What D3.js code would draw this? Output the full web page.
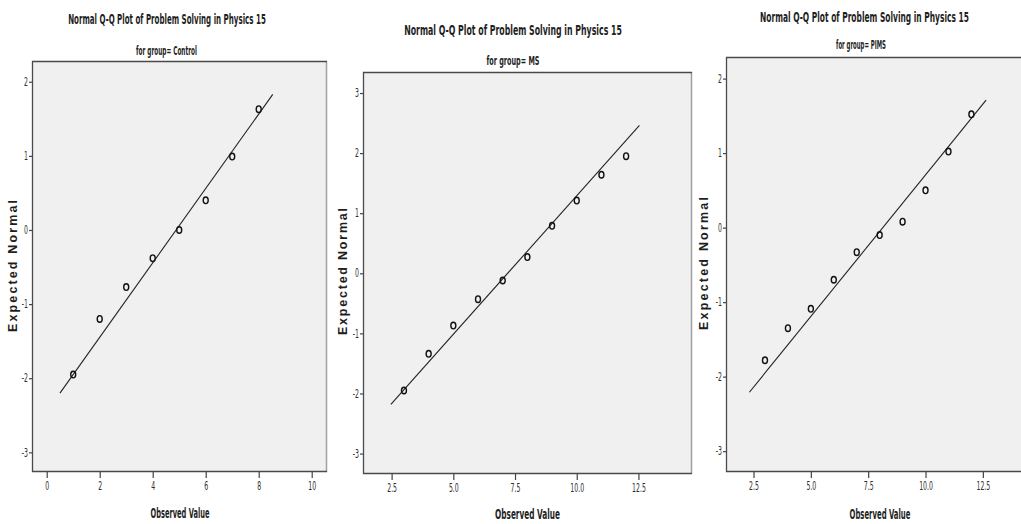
<!DOCTYPE html>
<html>
<head>
<meta charset="utf-8">
<script src="https://cdn.jsdelivr.net/npm/d3@7"></script>
<style>
  html, body { margin: 0; padding: 0; background: #ffffff; }
  svg { display: block; }
  .narrow { font-family: "Liberation Sans Narrow", "Arial Narrow", "DejaVu Sans Condensed", sans-serif; }
  .wide { font-family: "Liberation Sans", Arial, "DejaVu Sans", sans-serif; }
</style>
</head>
<body>
<svg id="chart" width="1021" height="524"></svg>
<script>
// Observed scores and expected normal quantiles, one pair of arrays per group
const controlObserved = [1, 2, 3, 4, 5, 6, 7, 8];
const controlExpected = [-1.95, -1.20, -0.77, -0.38, 0.00, 0.40, 0.99, 1.63];

const msObserved = [3, 4, 5, 6, 7, 8, 9, 10, 11, 12];
const msExpected = [-1.95, -1.34, -0.87, -0.43, -0.12, 0.27, 0.79, 1.21, 1.64, 1.95];

const pimsObserved = [3, 4, 5, 6, 7, 8, 9, 10, 11, 12];
const pimsExpected = [-1.78, -1.35, -1.09, -0.70, -0.33, -0.10, 0.08, 0.50, 1.02, 1.52];

// End points of each group's normal reference line
const controlLineX = [0.50, 8.53];
const controlLineY = [-2.20, 1.83];
const msLineX = [2.47, 12.54];
const msLineY = [-2.18, 2.46];
const pimsLineX = [2.32, 12.64];
const pimsLineY = [-2.21, 1.71];

// Axis ticks
const controlXTicks = [0, 2, 4, 6, 8, 10];
const msXTicks = [2.5, 5.0, 7.5, 10.0, 12.5];
const pimsXTicks = [2.5, 5.0, 7.5, 10.0, 12.5];
const controlYTicks = [-3, -2, -1, 0, 1, 2];
const msYTicks = [-3, -2, -1, 0, 1, 2, 3];
const pimsYTicks = [-3, -2, -1, 0, 1, 2];

// Text
const mainTitle = "Normal Q-Q Plot of Problem Solving in Physics 15";
const groupNames = ["Control", "MS", "PIMS"];
const xTitle = "Observed Value";
const yTitle = "Expected Normal";

// Plain hyphen for negatives
const intFmt = d => String(d);
const oneDec = d => d.toFixed(1);

// Panel layout: plot frame, domains and text placement
const panels = [
  {
    group: groupNames[0], obs: controlObserved, exp: controlExpected,
    lineX: controlLineX, lineY: controlLineY,
    xTicks: controlXTicks, yTicks: controlYTicks, xFmt: intFmt,
    frame: { x0: 32, x1: 327, y0: 61, y1: 472 },
    xDomain: [-0.555, 10.577], yDomain: [-3.265, 2.28],
    title: { cx: 167, y: 24, w: 198 }, sub: { cx: 166.5, y: 55, w: 61 },
    xt: { cx: 180, y: 518, w: 59 }, yt: { x: 17, cy: 266, w: 132 }
  },
  {
    group: groupNames[1], obs: msObserved, exp: msExpected,
    lineX: msLineX, lineY: msLineY,
    xTicks: msXTicks, yTicks: msYTicks, xFmt: oneDec,
    frame: { x0: 363, x1: 692, y0: 72, y1: 474 },
    xDomain: [1.34, 14.67], yDomain: [-3.34, 3.35],
    title: { cx: 513, y: 35, w: 218 }, sub: { cx: 513, y: 65, w: 53 },
    xt: { cx: 527.5, y: 519, w: 65 }, yt: { x: 347, cy: 271.5, w: 127 }
  },
  {
    group: groupNames[2], obs: pimsObserved, exp: pimsExpected,
    lineX: pimsLineX, lineY: pimsLineY,
    xTicks: pimsXTicks, yTicks: pimsYTicks, xFmt: oneDec,
    frame: { x0: 726, x1: 1023, y0: 57, y1: 472 },
    xDomain: [1.30, 14.25], yDomain: [-3.28, 2.29],
    title: { cx: 864.5, y: 22, w: 209 }, sub: { cx: 861, y: 48.5, w: 50 },
    xt: { cx: 880, y: 519, w: 61 }, yt: { x: 708, cy: 263.5, w: 133 }
  }
];

const svg = d3.select("#chart");

// Draw a centred narrow label squeezed horizontally to a given width
function narrowLabel(g, txt, cx, y, size, width) {
  const t = g.append("text").attr("class", "narrow")
    .attr("x", 0).attr("y", 0)
    .attr("text-anchor", "middle").attr("font-size", size).attr("font-weight", "bold")
    .attr("fill", "#1e1e1e")
    .text(txt);
  const natural = t.node().getComputedTextLength();
  const s = width / natural;
  t.attr("transform", `translate(${cx},${y}) scale(${s},1)`);
  return t;
}

const TICK_SQUEEZE = 0.6;

panels.forEach(p => {
  const f = p.frame;
  const x = d3.scaleLinear().domain(p.xDomain).range([f.x0, f.x1]);
  const y = d3.scaleLinear().domain(p.yDomain).range([f.y1, f.y0]);
  const g = svg.append("g");

  // plot area background
  g.append("rect")
    .attr("x", f.x0).attr("y", f.y0)
    .attr("width", f.x1 - f.x0).attr("height", f.y1 - f.y0)
    .attr("fill", "#f0f0f0");

  // frame: right edge is lighter
  g.append("line").attr("x1", f.x1 - 0.5).attr("x2", f.x1 - 0.5)
    .attr("y1", f.y0).attr("y2", f.y1).attr("stroke", "#a0a0a0").attr("stroke-width", 1.5);
  g.append("path")
    .attr("d", `M${f.x1},${f.y0 + 0.5}H${f.x0 + 0.5}V${f.y1 - 0.5}H${f.x1}`)
    .attr("fill", "none").attr("stroke", "#4a4a4a").attr("stroke-width", 1.3);

  // axes
  const xAxis = d3.axisBottom(x).tickValues(p.xTicks).tickFormat(p.xFmt)
    .tickSize(6).tickSizeOuter(0).tickPadding(4);
  const yAxis = d3.axisLeft(y).tickValues(p.yTicks).tickFormat(intFmt)
    .tickSize(3).tickSizeOuter(0).tickPadding(1);

  const gx = g.append("g").attr("transform", `translate(0,${f.y1})`).call(xAxis);
  const gy = g.append("g").attr("transform", `translate(${f.x0},0)`).call(yAxis);
  [gx, gy].forEach(a => {
    a.select(".domain").remove();
    a.selectAll(".tick line").attr("stroke", "#444").attr("stroke-width", 1.2);
    a.selectAll(".tick text")
      .attr("class", "narrow")
      .attr("font-size", 11.5)
      .attr("fill", "#2e2e2e")
      .each(function () {
        const t = d3.select(this);
        const x0 = +t.attr("x") || 0;
        t.attr("x", x0 / TICK_SQUEEZE).attr("transform", `scale(${TICK_SQUEEZE},1)`);
      });
  });

  // normal reference line
  const lineData = p.lineX.map((v, i) => [v, p.lineY[i]]);
  g.append("path")
    .datum(lineData)
    .attr("d", d3.line().x(d => x(d[0])).y(d => y(d[1])))
    .attr("fill", "none").attr("stroke", "#222").attr("stroke-width", 1.1);

  // observed points
  g.selectAll("ellipse.pt")
    .data(p.obs.map((v, i) => [v, p.exp[i]]))
    .join("ellipse")
    .attr("class", "pt")
    .attr("cx", d => x(d[0])).attr("cy", d => y(d[1]))
    .attr("rx", 2.5).attr("ry", 3.3)
    .attr("fill", "none").attr("stroke", "#111").attr("stroke-width", 1.4);

  // titles
  narrowLabel(g, mainTitle, p.title.cx, p.title.y, 14.5, p.title.w);
  narrowLabel(g, "for group= " + p.group, p.sub.cx, p.sub.y, 12.5, p.sub.w);
  narrowLabel(g, xTitle, p.xt.cx, p.xt.y, 14, p.xt.w);

  g.append("text").attr("class", "wide")
    .attr("transform", `translate(${p.yt.x},${p.yt.cy}) rotate(-90)`)
    .attr("text-anchor", "middle").attr("font-size", 12.5).attr("font-weight", "bold")
    .attr("fill", "#1e1e1e")
    .attr("textLength", p.yt.w).attr("lengthAdjust", "spacing")
    .text(yTitle);
});
</script>
</body>
</html>
